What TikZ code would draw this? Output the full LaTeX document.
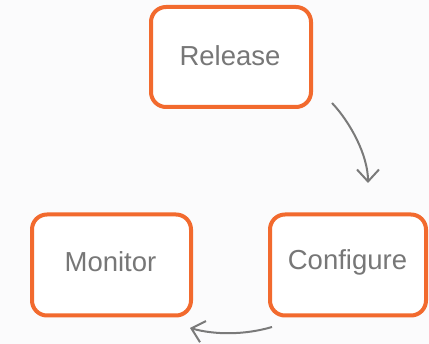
\documentclass[tikz,border=0pt]{standalone}
\usepackage{fontspec}
\setmainfont{Liberation Sans}
\usetikzlibrary{arrows.meta}
\definecolor{boxorange}{HTML}{F26A2E}
\definecolor{txtgray}{HTML}{777777}
\definecolor{arrgray}{HTML}{7A7A7A}
\definecolor{bgcol}{HTML}{FBFBFC}
\begin{document}
\begin{tikzpicture}[x=1pt,y=-1pt,
  stagebox/.style={draw=boxorange, line width=4pt, rounded corners=15pt, fill=white,
    minimum width=159pt, minimum height=101pt, inner sep=0pt, outer sep=0pt},
  stagetext/.style={font=\fontsize{27.5}{32}\selectfont, text=txtgray, inner sep=0pt},
  flow/.style={draw=arrgray, line width=2pt, -{Straight Barb[length=12pt,width=22pt,line width=2pt]}}]
\fill[bgcol] (0,0) rectangle (429,344);
\useasboundingbox (0,0) rectangle (429,344);
\node[stagebox, minimum width=160pt, minimum height=100pt] (release) at (231,57) {};
\node[stagebox] (monitor) at (111.5,265) {};
\node[stagebox, minimum width=156pt] (configure) at (348,265) {};
\node[stagetext] (releaset) at (230,56) {Release};
\node[stagetext] (monitort) at (110.5,262) {Monitor};
\node[stagetext] (configuret) at (347.5,262) {Configure};
\coordinate (a1s) at (332,103);
\coordinate (a1e) at (368,183);
\coordinate (a2s) at (272,327);
\coordinate (a2e) at (190,328);
\draw[flow] (a1s) .. controls (350,122) and (368,155) .. (a1e);
\draw[flow] (a2s) .. controls (245,335) and (215,335) .. (a2e);
\end{tikzpicture}
\end{document}
